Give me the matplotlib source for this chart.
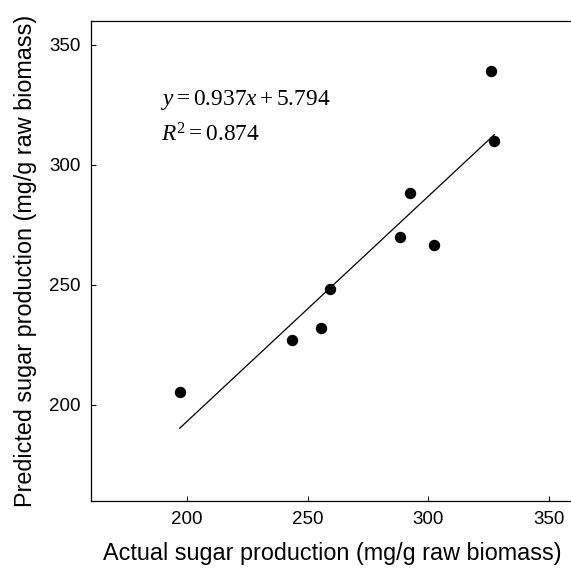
import matplotlib
matplotlib.use('Agg')
import matplotlib.pyplot as plt
import numpy as np

# actual vs predicted sugar production (mg/g raw biomass)
actual = [196.9, 243.5, 255.3, 259.3, 288.2, 292.6, 302.4, 326.1, 327.4]
predicted = [205.2, 226.9, 232.2, 248.4, 270.1, 288.1, 266.5, 338.9, 309.8]

# regression reported on the chart
slope = 0.937
intercept = 5.794
r2 = 0.874

x_ticks = [200, 250, 300, 350]
y_ticks = [200, 250, 300, 350]

plt.rcParams['font.family'] = 'Liberation Sans'
plt.rcParams['mathtext.fontset'] = 'custom'
plt.rcParams['mathtext.rm'] = 'Liberation Serif'
plt.rcParams['mathtext.it'] = 'Liberation Serif:italic'

fig = plt.figure(figsize=(5.71, 5.71), dpi=100)
ax = fig.add_axes([0.1588, 0.1226, 0.8447, 0.8411])

ax.plot(actual, predicted, 'o', color='black', markersize=7.2)

# fitted line over the range of the data
xl = np.array([min(actual), max(actual)])
ax.plot(xl, slope * xl + intercept, color='black', linewidth=0.9)

ax.set_xlim(160, 360)
ax.set_ylim(160, 360)
ax.set_xticks(x_ticks)
ax.set_yticks(y_ticks)
ax.tick_params(direction='in', length=3.5, width=0.8, labelsize=13.5, pad=7,
               top=False, right=False)
for s in ax.spines.values():
    s.set_linewidth(0.9)

ax.set_xlabel('Actual sugar production (mg/g raw biomass)', fontsize=16.8, labelpad=10)
ax.set_ylabel('Predicted sugar production (mg/g raw biomass)', fontsize=16.8, labelpad=9)

ax.text(189, 325.0, r'$y = %.3fx + %.3f$' % (slope, intercept), fontsize=16.8,
        va='baseline', ha='left')
ax.text(189, 309.6, r'$R^2 = %.3f$' % r2, fontsize=16.8, va='baseline', ha='left')

plt.savefig('out.png', dpi=100)
